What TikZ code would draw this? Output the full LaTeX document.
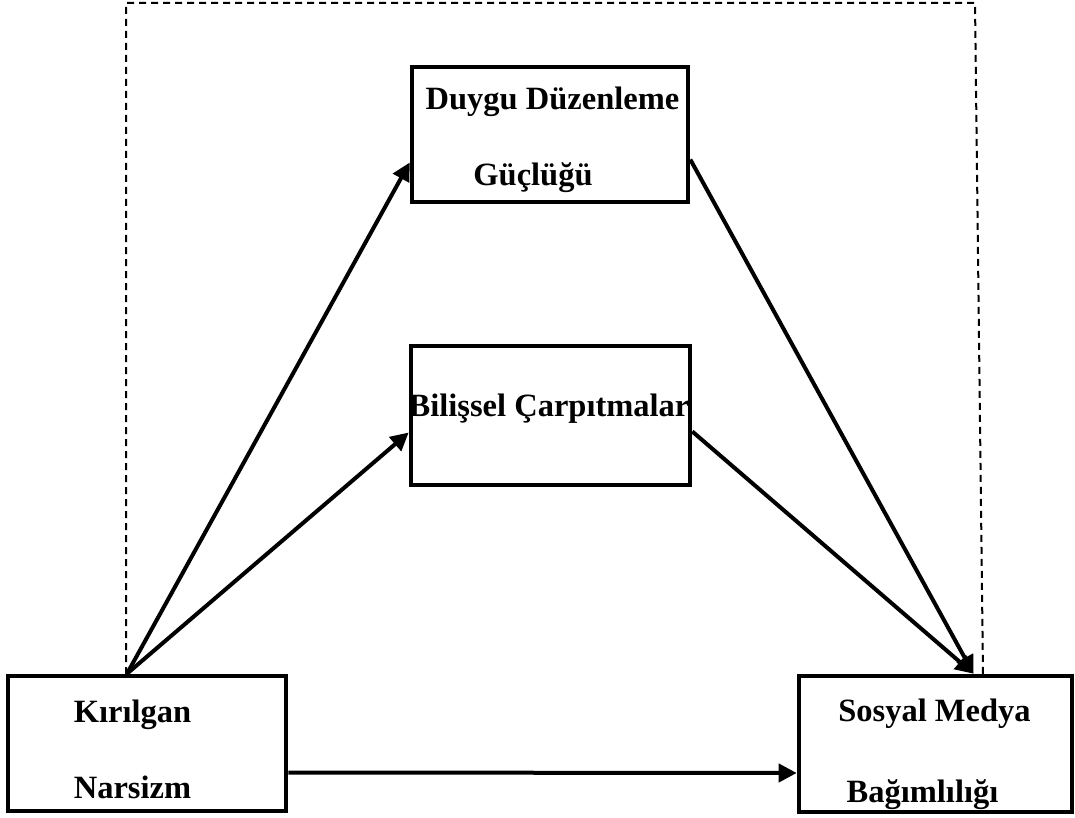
\documentclass[tikz,border=0pt]{standalone}
\usepackage{fontspec}
\setmainfont{Liberation Serif}
\usetikzlibrary{arrows.meta,calc}
\begin{document}
\begin{tikzpicture}[x=1pt,y=-1pt,
  box/.style={draw,line width=4.6pt,inner sep=0pt},
  lbl/.style={anchor=base,inner sep=0pt,font=\fontsize{32.5}{36}\selectfont\bfseries},
  link/.style={line width=4pt,-{Triangle[length=18pt,width=18pt]}},
  frame/.style={line width=2pt,dash pattern=on 7pt off 5pt}]
\useasboundingbox (0,0) rectangle (1075,818);
\path[fill=white] (0,0) rectangle (1075,818);

% boxes
\node[box,minimum width=276pt,minimum height=135pt] (dd) at (550,134.5) {};
\node[box,minimum width=279pt,minimum height=139pt] (bc) at (550.5,415.5) {};
\node[box,minimum width=278pt,minimum height=135pt] (kn) at (147,743.5) {};
\node[box,minimum width=273pt,minimum height=136pt] (sm) at (935.5,744) {};

% texts
\node[lbl] (dd1) at (552.5,110) {Duygu Düzenleme};
\node[lbl] (dd2) at (533,186) {Güçlüğü};
\node[lbl] (bc1) at (549,416) {Bilişsel Çarpıtmalar};
\node[lbl] (kn1) at (132.5,722) {Kırılgan};
\node[lbl] (kn2) at (132.5,798) {Narsizm};
\node[lbl] (sm1) at (934.5,721) {Sosyal Medya};
\node[lbl] (sm2) at (922.5,802) {Bağımlılığı};

% dashed frame
\coordinate (f1) at (126,674);
\coordinate (f2) at (126,3);
\coordinate (f3) at (975,3);
\coordinate (f4) at (983,675);
\draw[frame] (f1) -- (f2) -- (f3) -- (f4);

% connector ends
\coordinate (src) at ([xshift=-20pt]kn.north);
\coordinate (dst) at ([xshift=38pt]sm.north);
\coordinate (ddin) at ([yshift=-28pt]dd.west);
\coordinate (ddout) at ([yshift=-25pt]dd.east);
\coordinate (bcin) at ([yshift=-17pt]bc.west);
\coordinate (bcout) at ([yshift=-16pt]bc.east);
\coordinate (knout) at ([yshift=-29pt]kn.east);
\coordinate (smin) at ([yshift=-29pt]sm.west);

\draw[link] (src) -- (ddin);
\draw[link] (src) -- (bcin);
\draw[link] (ddout) -- (dst);
\draw[link] (bcout) -- (dst);
\draw[link] (knout) -- (smin);
\end{tikzpicture}
\end{document}
